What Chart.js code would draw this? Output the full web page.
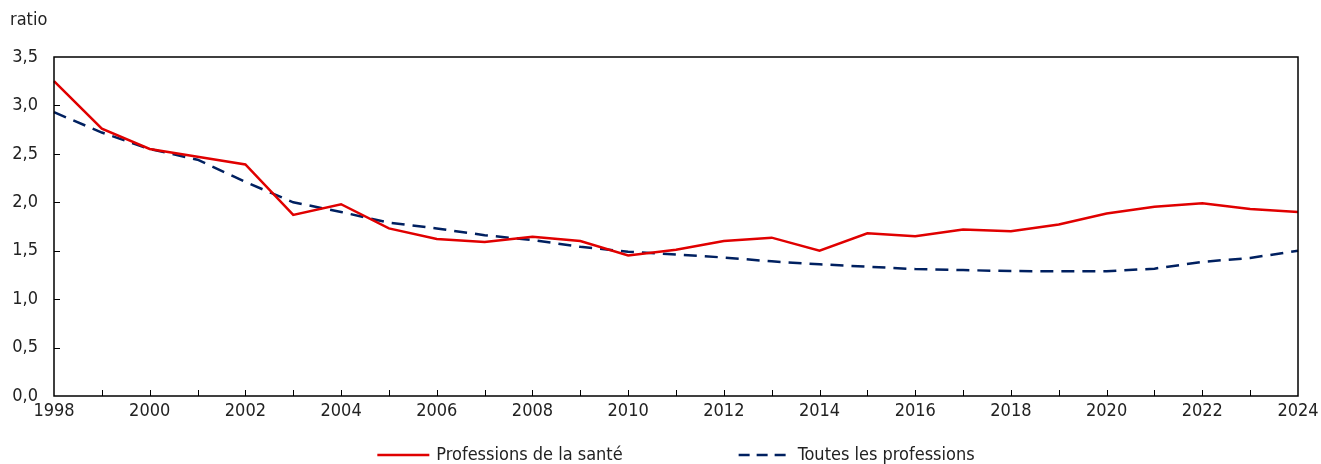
<!DOCTYPE html>
<html>
<head>
<meta charset="utf-8">
<script src="https://cdn.jsdelivr.net/npm/chart.js@4.4.1/dist/chart.umd.min.js"></script>
<style>
  html, body { margin: 0; padding: 0; background: #fff; }
  #wrap { width: 1321px; height: 464px; }
</style>
</head>
<body>
<div id="wrap"><canvas id="myChart"></canvas></div>
<script>
var years = ['1998', '1999', '2000', '2001', '2002', '2003', '2004', '2005', '2006', '2007', '2008', '2009', '2010',
             '2011', '2012', '2013', '2014', '2015', '2016', '2017', '2018', '2019', '2020', '2021', '2022', '2023', '2024'];
var sante = [3.25, 2.76, 2.55, 2.47, 2.39, 1.87, 1.98, 1.73, 1.62, 1.59, 1.645, 1.60, 1.45,
             1.51, 1.60, 1.635, 1.50, 1.68, 1.65, 1.72, 1.70, 1.77, 1.885, 1.955, 1.99, 1.93, 1.90];
var toutes = [2.93, 2.72, 2.55, 2.44, 2.21, 2.00, 1.90, 1.79, 1.73, 1.66, 1.61, 1.54, 1.49,
              1.46, 1.43, 1.39, 1.36, 1.335, 1.31, 1.30, 1.29, 1.287, 1.287, 1.315, 1.385, 1.425, 1.50];
var seriesNames = ['Professions de la santé', 'Toutes les professions'];
var yTitle = 'ratio';

var fontFamily = "'Liberation Sans Narrow', 'DejaVu Sans Condensed', 'Arial Narrow', sans-serif";
var fontSize = 18;
var textColor = '#222';

// box, inner ticks, unit label and legend
var extras = {
  id: 'extras',
  afterDraw: function (chart) {
    var c = chart.ctx, a = chart.chartArea;
    var xs = chart.scales.x, ys = chart.scales.y;
    c.save();
    c.strokeStyle = '#000';
    c.lineWidth = 1.5;
    c.strokeRect(a.left, a.top, a.right - a.left, a.bottom - a.top);
    c.lineWidth = 1;
    c.beginPath();
    for (var i = 1; i < years.length - 1; i++) {
      var px = Math.round(xs.getPixelForTick(i)) + 0.5;
      c.moveTo(px, a.bottom);
      c.lineTo(px, a.bottom - 6);
    }
    ys.ticks.forEach(function (t, j) {
      if (j === 0 || j === ys.ticks.length - 1) return;
      var py = Math.round(ys.getPixelForValue(t.value)) + 0.5;
      c.moveTo(a.left, py);
      c.lineTo(a.left + 6, py);
    });
    c.stroke();

    c.fillStyle = textColor;
    c.font = fontSize + 'px ' + fontFamily;
    c.textBaseline = 'middle';
    c.textAlign = 'left';
    c.fillText(yTitle, 10, 20);

    // legend, centred under the plot area
    var lineW = 52, gapText = 7, gapItem = 116;
    var w0 = c.measureText(seriesNames[0]).width;
    var w1 = c.measureText(seriesNames[1]).width;
    var total = lineW + gapText + w0 + gapItem + lineW + gapText + w1;
    var x0 = (a.left + a.right) / 2 - total / 2;
    var ly = 455;
    var ds = chart.data.datasets;
    var x = x0;
    [0, 1].forEach(function (k) {
      c.beginPath();
      c.strokeStyle = ds[k].borderColor;
      c.lineWidth = ds[k].borderWidth;
      c.setLineDash(k === 1 ? [11, 7] : []);
      c.moveTo(x, ly);
      c.lineTo(x + lineW, ly);
      c.stroke();
      c.setLineDash([]);
      c.fillText(seriesNames[k], x + lineW + gapText, ly);
      x += lineW + gapText + (k === 0 ? w0 : w1) + gapItem;
    });
    c.restore();
  }
};

var ctx = document.getElementById('myChart').getContext('2d');
var myChart = new Chart(ctx, {
  type: 'line',
  data: {
    labels: years,
    datasets: [{
      label: seriesNames[0],
      data: sante,
      borderColor: '#e00000',
      borderWidth: 2.5,
      pointRadius: 0,
      tension: 0
    }, {
      label: seriesNames[1],
      data: toutes,
      borderColor: '#002060',
      borderWidth: 2.5,
      borderDash: [13, 8],
      pointRadius: 0,
      tension: 0
    }]
  },
  options: {
    responsive: true,
    maintainAspectRatio: false,
    animation: false,
    layout: {
      padding: { left: 0, right: 23, top: 57, bottom: 0 }
    },
    plugins: {
      legend: { display: false },
      tooltip: { enabled: false }
    },
    scales: {
      x: {
        grid: { display: false, drawTicks: false },
        border: { display: false },
        afterFit: function (scale) {
          scale.height = 68;
          scale.paddingLeft = 0;
          scale.paddingRight = 0;
        },
        ticks: {
          autoSkip: false,
          maxRotation: 0,
          padding: 5,
          color: textColor,
          font: { family: fontFamily, size: fontSize },
          callback: function (v, i) { return i % 2 === 0 ? years[i] : ''; }
        }
      },
      y: {
        min: 0,
        max: 3.5,
        grid: { display: false, drawTicks: false },
        border: { display: false },
        afterFit: function (scale) { scale.width = 54; },
        ticks: {
          stepSize: 0.5,
          padding: 16,
          color: textColor,
          font: { family: fontFamily, size: fontSize },
          callback: function (v) { return v.toFixed(1).replace('.', ','); }
        }
      }
    }
  },
  plugins: [extras]
});
</script>
</body>
</html>
